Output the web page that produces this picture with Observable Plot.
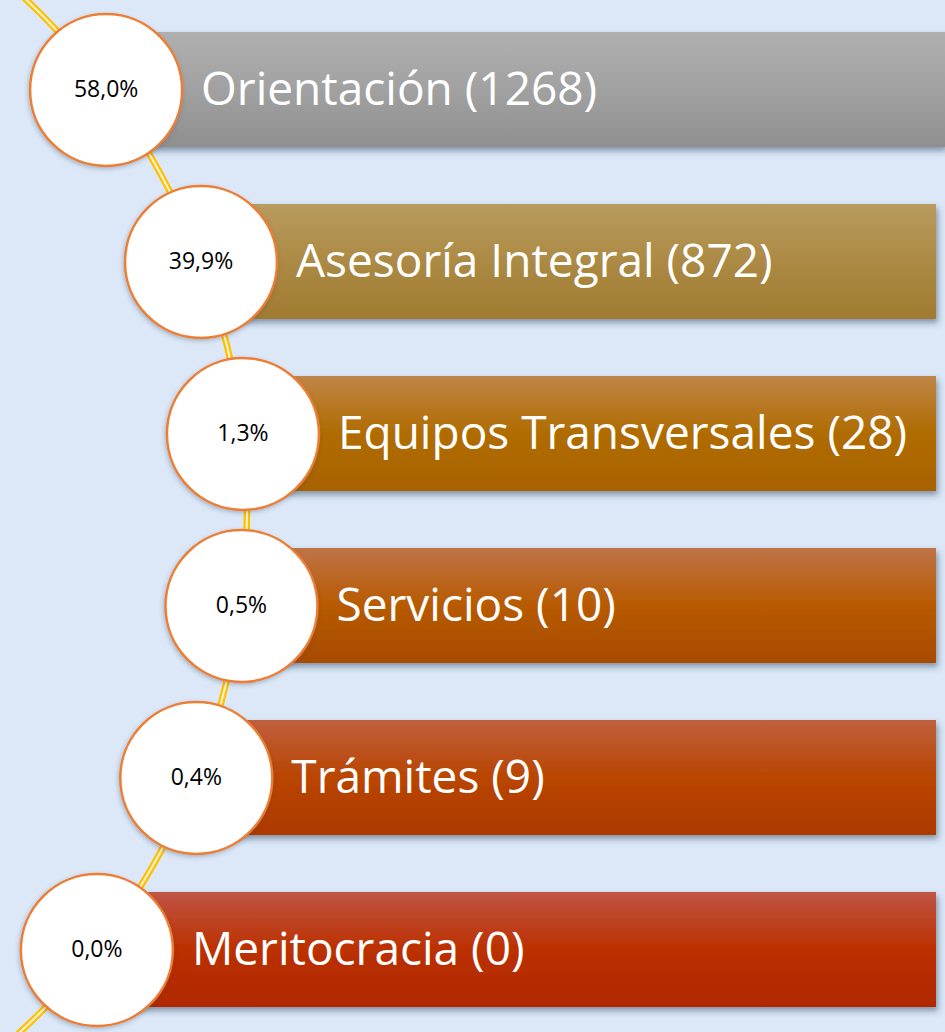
<!DOCTYPE html>
<html>
<head>
<meta charset="utf-8">
<script src="https://cdn.jsdelivr.net/npm/d3@7"></script>
<script src="https://cdn.jsdelivr.net/npm/@observablehq/plot@0.6"></script>
<style>
  html, body { margin: 0; padding: 0; background: #dce8f7; }
  #chart svg { display: block; }
</style>
</head>
<body>
<div id="chart"></div>
<script>
// ---- data ----
const categories = ["Orientación", "Asesoría Integral", "Equipos Transversales", "Servicios", "Trámites", "Meritocracia"];
const counts = [1268, 872, 28, 10, 9, 0];
const percents = [58.0, 39.9, 1.3, 0.5, 0.4, 0.0];

// ---- styles ----
const gradientStops = [
  ["#b0b0b0", "#a1a1a1", "#8f8f8f"],
  ["#b99b60", "#ac8a44", "#a07a30"],
  ["#bf8548", "#b06c00", "#a86200"],
  ["#bf7448", "#b75a00", "#a84b00"],
  ["#c0603f", "#b94500", "#ad3900"],
  ["#c05545", "#bb3000", "#b02800"]
];
const W = 945, H = 1032;

const yOpts = {type: "band", domain: categories, range: [3, 1035], paddingInner: 0.332, paddingOuter: 0.1645};
const yScale = Plot.scale({y: yOpts});
const centers = categories.map(c => yScale.apply(c) + yScale.bandwidth / 2);
const arcCy = (centers[0] + centers[centers.length - 1]) / 2 - 6;
const arcCx = -460, arcR = 707, circleR = 76;
const circleX = centers.map(y => arcCx + Math.sqrt(arcR * arcR - (y - arcCy) * (y - arcCy)));

const fmtPct = v => v.toFixed(1).replace(".", ",") + "%";
const rows = categories.map((name, i) => ({name, count: counts[i], pct: fmtPct(percents[i]), cx: circleX[i], i}));

const arcMark = (index, scales) => {
  const g = d3.create("svg:g");
  const cxp = scales.x(arcCx);
  g.append("circle").attr("cx", cxp).attr("cy", arcCy).attr("r", arcR)
    .attr("fill", "none").attr("stroke", "#ffc000").attr("stroke-width", 6.5);
  g.append("circle").attr("cx", cxp).attr("cy", arcCy).attr("r", arcR)
    .attr("fill", "none").attr("stroke", "#fdf4d6").attr("stroke-width", 2);
  return g.node();
};

const chart = Plot.plot({
  width: W,
  height: H,
  margin: 0,
  style: {background: "#dce8f7", overflow: "hidden"},
  x: {type: "linear", domain: [0, W], range: [0, W], axis: null},
  y: {...yOpts, axis: null},
  marks: [
    arcMark,
    ...rows.map((r, i) => Plot.barX([r], {
      y: "name", x1: "cx", x2: () => (i === 0 ? W : 936),
      fill: `url(#grad${i})`, ariaLabel: "bar"
    })),
    Plot.dot(rows, {x: "cx", y: "name", r: circleR, fill: "white", stroke: "#ed7d31", strokeWidth: 2.5, ariaLabel: "dot"}),
    Plot.text(rows, {x: "cx", y: "name", text: "pct", fill: "black", fontSize: 23, fontFamily: "Open Sans", textAnchor: "middle"}),
    Plot.text(rows, {x: d => d.cx + 95, y: "name", text: d => `${d.name} (${d.count})`, fill: "white", fontSize: 46, fontFamily: "Open Sans", textAnchor: "start"})
  ]
});

const svg = d3.select(chart);
const defs = svg.insert("defs", ":first-child");
gradientStops.forEach((stops, i) => {
  const lg = defs.append("linearGradient").attr("id", `grad${i}`).attr("x1", 0).attr("y1", 0).attr("x2", 0).attr("y2", 1);
  lg.append("stop").attr("offset", "0%").attr("stop-color", stops[0]);
  lg.append("stop").attr("offset", "50%").attr("stop-color", stops[1]);
  lg.append("stop").attr("offset", "100%").attr("stop-color", stops[2]);
});
const f1 = defs.append("filter").attr("id", "barShadow").attr("x", "-10%").attr("y", "-20%").attr("width", "130%").attr("height", "160%");
f1.append("feDropShadow").attr("dx", 2).attr("dy", 4).attr("stdDeviation", 3).attr("flood-color", "#2b3f5c").attr("flood-opacity", 0.5);
const f2 = defs.append("filter").attr("id", "dotShadow").attr("x", "-20%").attr("y", "-20%").attr("width", "140%").attr("height", "140%");
f2.append("feDropShadow").attr("dx", -1).attr("dy", 2).attr("stdDeviation", 2).attr("flood-color", "#2b3f5c").attr("flood-opacity", 0.3);
svg.selectAll('g[aria-label="bar"]').attr("filter", "url(#barShadow)");
svg.selectAll('g[aria-label="dot"]').attr("filter", "url(#dotShadow)");

document.getElementById("chart").appendChild(chart);
</script>
</body>
</html>
